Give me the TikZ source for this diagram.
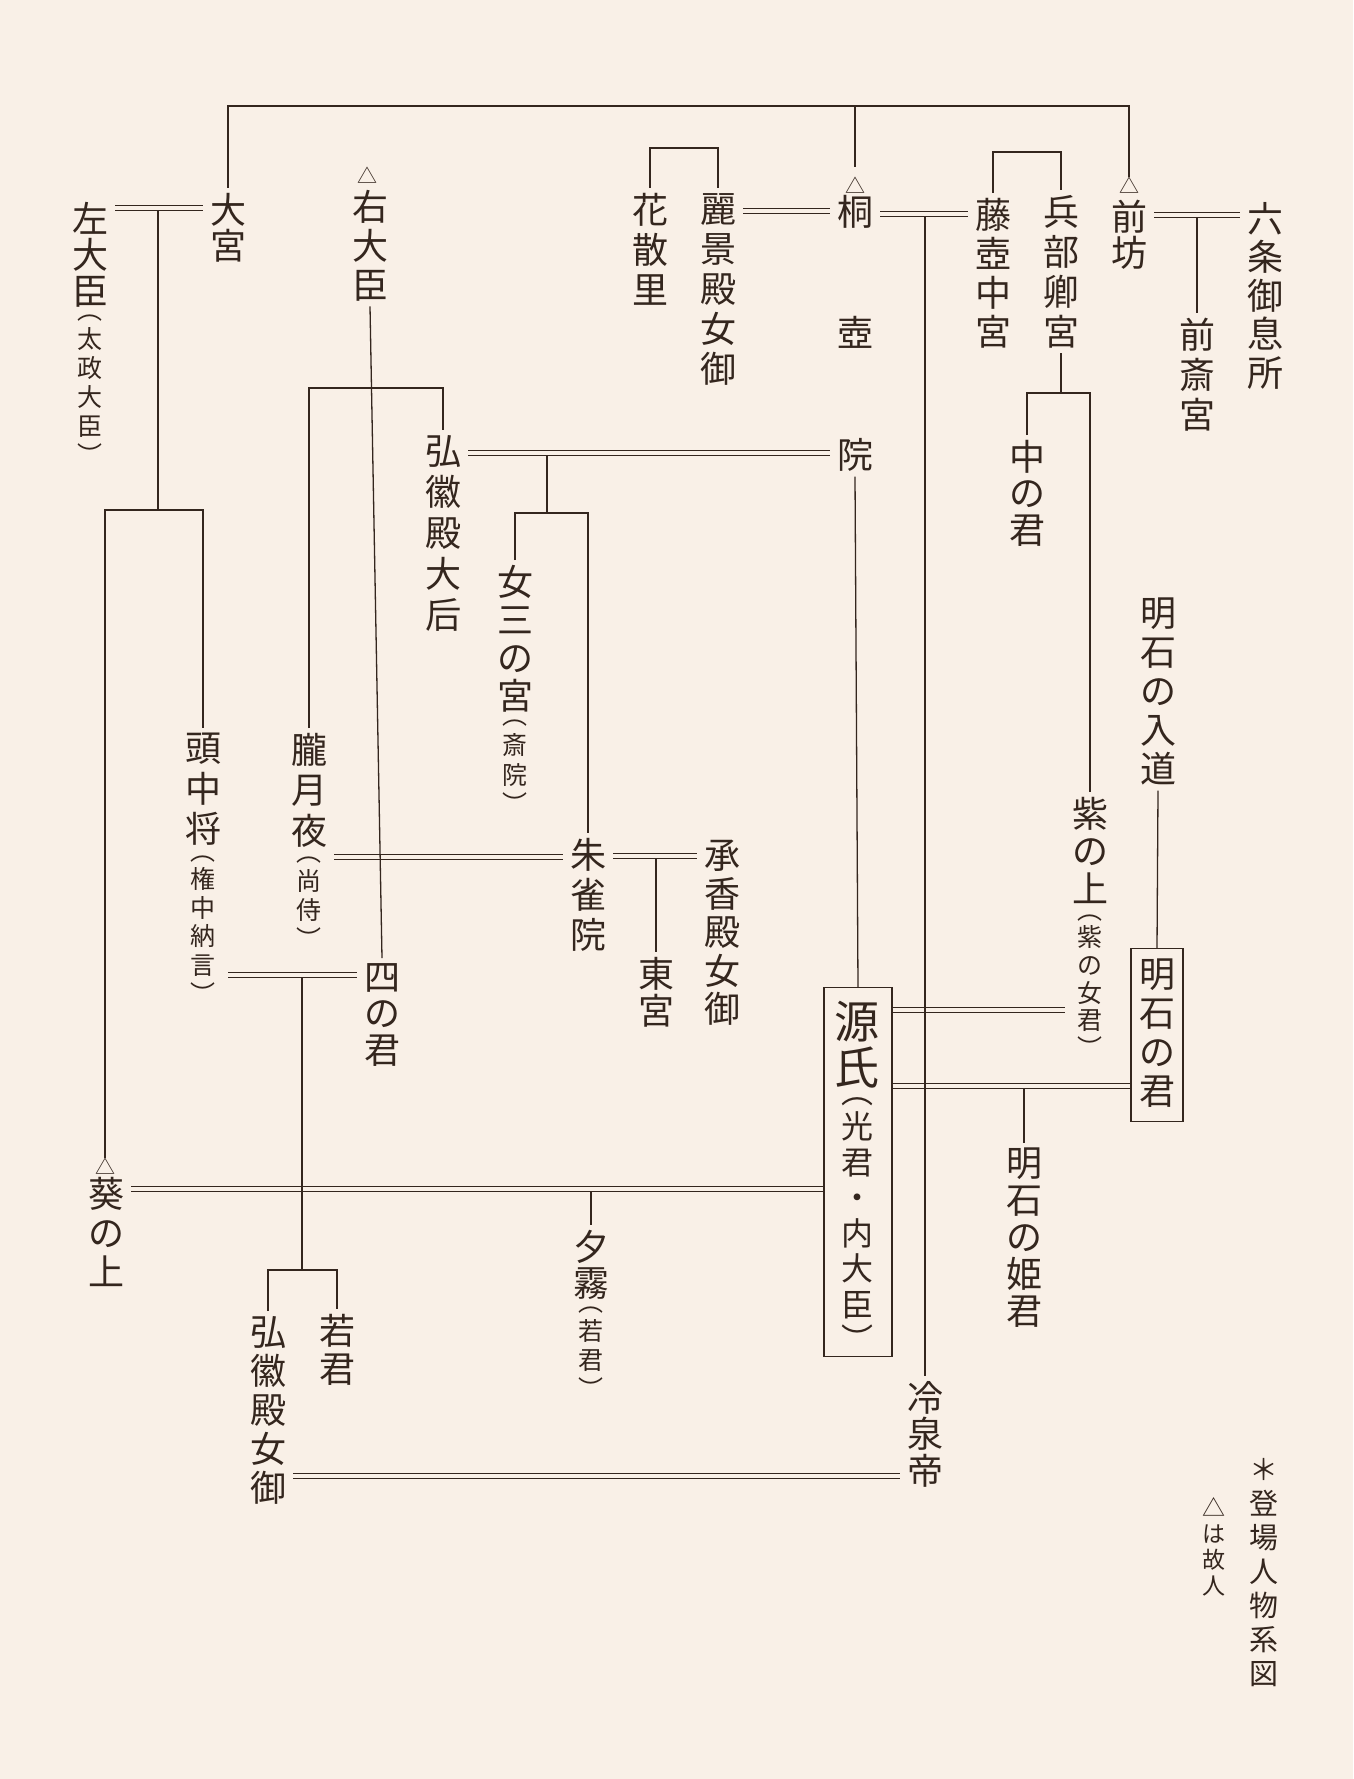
\documentclass[tikz,border=0pt]{standalone}
\usepackage{fontspec}
\newfontfamily\jp{Noto Sans CJK JP}
\definecolor{paper}{RGB}{249,240,231}
\definecolor{ink}{RGB}{52,38,30}
% a vertical run of characters: font size, pitch, characters separated by \cr
\newcommand\vrun[3]{\vbox{\fontsize{#1}{#2}\selectfont\lineskiplimit=0pt\lineskip=1pt\halign{\hfil##\hfil\cr#3\crcr}}}
% two runs stacked, with a gap between the ink of the first and the second
\newcommand\vstack[3]{\vbox{\offinterlineskip\halign{\hfil##\hfil\cr#1\cr\noalign{\kern#2}#3\cr}}}
\tikzset{
  nm/.style={font=\jp\fontsize{36}{#1}\selectfont, align=center, inner xsep=7pt, inner ysep=5pt, anchor=north, text=ink},
  cmb/.style={font=\jp, inner xsep=7pt, inner ysep=5pt, anchor=north, text=ink},
  tri/.style={font=\jp\fontsize{20}{20}\selectfont, inner sep=0pt, anchor=north, text=ink},
  ln/.style={draw=ink, line width=1.3pt},
  dbl/.style={draw=ink, line width=1.2pt, double=paper, double distance=4.2pt},
  frame/.style={draw=ink, line width=1.3pt, anchor=north, inner sep=0pt},
  plain/.style={align=center, anchor=north, inner sep=0pt, text=ink},
}
\begin{document}
\begin{tikzpicture}[x=1pt,y=-1pt]
\fill[paper] (0,0) rectangle (1353,1779);
\useasboundingbox (0,0) rectangle (1353,1779);

% ---------- names ----------
\node[cmb] (sadaijin) at (90,197) {\vstack{\vrun{36}{36}{左\cr 大\cr 臣}}{8pt}{\vrun{25}{29}{︵\cr 太\cr 政\cr 大\cr 臣\cr ︶}}};
\node[nm=36] (omiya) at (228,188) {大\\宮};
\node[tri] (udaijin-tri) at (367,167) {△};
\node[nm=39] (udaijin) at (370,185) {右\\大\\臣};
\node[tri] (kiri-tri) at (855,177) {△};
\node[nm=121.5] (kiri) at (855,190) {桐\\壺\\院};
\node[nm=40] (hanachiru) at (650,188) {花\\散\\里};
\node[nm=40] (reikeiden) at (718,188) {麗\\景\\殿\\女\\御};
\node[nm=39] (fujitsubo) at (993,193) {藤\\壺\\中\\宮};
\node[nm=40] (hyobu) at (1061,190) {兵\\部\\卿\\宮};
\node[tri] (zenbo-tri) at (1129,177) {△};
\node[nm=36] (zenbo) at (1129,195) {前\\坊};
\node[nm=38.5] (rokujo) at (1265,197) {六\\条\\御\\息\\所};
\node[nm=40] (saigu) at (1197,313) {前\\斎\\宮};
\node[nm=36.5] (nakanokimi) at (1027,435) {中\\の\\君};
\node[nm=41] (kokiden-ot) at (443,430) {弘\\徽\\殿\\大\\后};
\node[cmb] (onna3) at (515,560) {\vstack{\vrun{36}{38}{女\cr 三\cr の\cr 宮}}{8pt}{\vrun{25}{29.7}{︵\cr 斎\cr 院\cr ︶}}};
\node[cmb] (tochujo) at (203,728) {\vstack{\vrun{36}{40.5}{頭\cr 中\cr 将}}{10pt}{\vrun{25}{28.6}{︵\cr 権\cr 中\cr 納\cr 言\cr ︶}}};
\node[cmb] (oboro) at (309,728) {\vstack{\vrun{36}{40.5}{朧\cr 月\cr 夜}}{10pt}{\vrun{25}{29}{︵\cr 尚\cr 侍\cr ︶}}};
\node[nm=40] (suzaku) at (588,833) {朱\\雀\\院};
\node[nm=38.5] (shokyoden) at (722,835) {承\\香\\殿\\女\\御};
\node[nm=37] (togu) at (656,952) {東\\宮};
\node[nm=36.5] (yon) at (382,958) {四\\の\\君};
\node[nm=39] (nyudo) at (1158,593) {明\\石\\の\\入\\道};
\node[cmb] (murasaki) at (1090,792) {\vstack{\vrun{36}{37.5}{紫\cr の\cr 上}}{11pt}{\vrun{25}{27.6}{︵\cr 紫\cr の\cr 女\cr 君\cr ︶}}};
\node[frame, minimum width=52pt, minimum height=173pt] (akashi) at (1157,948) {};
\node[nm=39, inner sep=0pt] (akashi-t) at (1157,959) {明\\石\\の\\君};
\node[frame, minimum width=68pt, minimum height=369pt] (genji) at (858,987) {};
\node[cmb, inner sep=0pt] (genji-t) at (857,1001) {\vstack{\vrun{45}{46}{源\cr 氏}}{9pt}{\vrun{32}{35.5}{︵\cr 光\cr 君\cr ・\cr 内\cr 大\cr 臣\cr ︶}}};
\node[nm=37] (himegimi) at (1024,1143) {明\\石\\の\\姫\\君};
\node[nm=36.5] (reizei) at (925,1376) {冷\\泉\\帝};
\node[tri] (aoi-tri) at (105,1158) {△};
\node[nm=39] (aoi) at (106,1172) {葵\\の\\上};
\node[cmb] (yugiri) at (591,1225) {\vstack{\vrun{36}{36}{夕\cr 霧}}{7pt}{\vrun{25}{29}{︵\cr 若\cr 君\cr ︶}}};
\node[nm=38] (wakagimi) at (337,1309) {若\\君};
\node[nm=39] (kokiden-ny) at (268,1311) {弘\\徽\\殿\\女\\御};
\node[plain, font=\jp\fontsize{29}{34}\selectfont] (legend-a) at (1264,1458) {＊\\登\\場\\人\\物\\系\\図};
\node[plain, font=\jp\fontsize{23}{26}\selectfont] (legend-b) at (1214,1497) {△\\は\\故\\人};

% ---------- junction coordinates ----------
\coordinate (j-sadaijin) at (158,211);
\coordinate (b-sadaijin) at (158,510);
\coordinate (b-udaijin) at (376,388);
\coordinate (j-in) at (547,456);
\coordinate (b-in) at (547,513);
\coordinate (j-to) at (302,978);
\coordinate (b-to) at (302,1270);

% ---------- marriages (double lines) ----------
\draw[dbl] (sadaijin.east |- 0,208) -- (omiya.west |- 0,208);
\draw[dbl] (reikeiden.east |- 0,211) -- (kiri.west |- 0,211);
\draw[dbl] (kiri.east |- 0,214) -- (fujitsubo.west |- 0,214);
\draw[dbl] (zenbo.east |- 0,215) -- (rokujo.west |- 0,215);
\draw[dbl] (kokiden-ot.east |- 0,453) -- (kiri.west |- 0,453);
\draw[dbl] (oboro.east |- 0,857) -- (suzaku.west |- 0,857);
\draw[dbl] (suzaku.east |- 0,856) -- (shokyoden.west |- 0,856);
\draw[dbl] (tochujo.east |- 0,975) -- (yon.west |- 0,975);
\draw[dbl] (aoi.east |- 0,1189) -- (genji.west |- 0,1189);
\draw[dbl] (genji.east |- 0,1010) -- (murasaki.west |- 0,1010);
\draw[dbl] (genji.east |- 0,1086) -- (akashi.west |- 0,1086);
\draw[dbl] (kokiden-ny.east |- 0,1476) -- (reizei.west |- 0,1476);

% ---------- descent (single lines) ----------
\draw[ln] (omiya.north) |- (zenbo-tri.north |- 0,106) -- (zenbo-tri.north);
\draw[ln, shorten >=10pt] (kiri-tri.north |- 0,106) -- (kiri-tri.north);
\draw[ln] (j-sadaijin) -- (b-sadaijin);
\draw[ln] (aoi-tri.north) |- (b-sadaijin) -| (tochujo.north);
\draw[ln] (oboro.north) |- (kokiden-ot.north |- b-udaijin) -- (kokiden-ot.north);
\draw[ln] (hanachiru.north) |- (reikeiden.north |- 0,148) -- (reikeiden.north);
\draw[ln] (fujitsubo.north) |- (hyobu.north |- 0,152) -- (hyobu.north);
\draw[ln] (saigu.north |- 0,218) -- (saigu.north);
\draw[ln] (hyobu.south) -- (hyobu.south |- 0,393);
\draw[ln] (nakanokimi.north) |- (murasaki.north |- 0,393) -- (murasaki.north);
\draw[ln] (j-in) -- (b-in);
\draw[ln] (onna3.north) |- (suzaku.north |- b-in) -- (suzaku.north);
\draw[ln] (togu.north |- 0,859) -- (togu.north);
\draw[ln] (j-to) -- (b-to);
\draw[ln] (kokiden-ny.north) |- (b-to) -| (wakagimi.north);
\draw[ln] (yugiri.north |- 0,1192) -- (yugiri.north);
\draw[ln] (himegimi.north |- 0,1089) -- (himegimi.north);
\draw[ln] (nyudo.south) -- (akashi.north);
\draw[ln] (kiri.south) -- (genji.north);
\draw[ln] (udaijin.south) -- (yon.north);
\draw[ln] (reizei.north |- 0,217) -- (reizei.north);
\end{tikzpicture}
\end{document}
